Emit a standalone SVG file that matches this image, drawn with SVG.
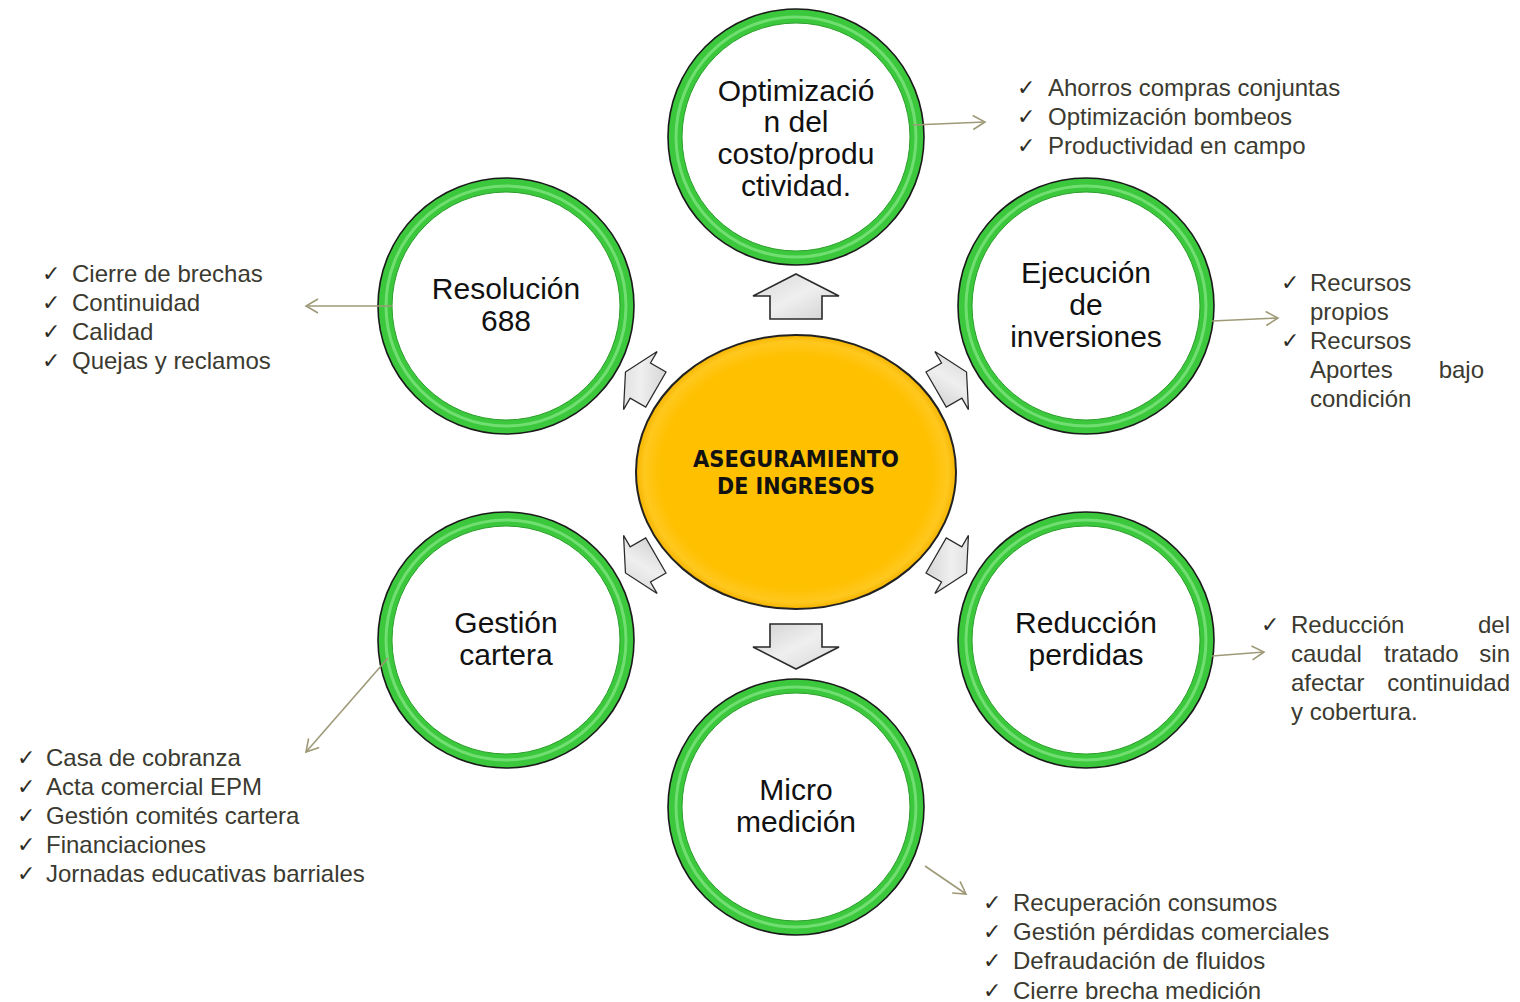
<svg xmlns="http://www.w3.org/2000/svg" width="1520" height="1002" viewBox="0 0 1520 1002">
<style>
.ring{fill:#fff;stroke:#3cc83c;stroke-width:14}
.ringo{fill:none;stroke:#1a1a1a;stroke-width:1.6}
.ringi{fill:none;stroke:#2a9e2a;stroke-width:1}
.ringh{fill:none;stroke:#9af09a;stroke-width:3;opacity:0.55}
.ct{font-family:"Liberation Sans",Arial,sans-serif;font-size:30px;fill:#111;text-anchor:middle}
.lt{font-family:"Liberation Sans",Arial,sans-serif;font-size:24px;fill:#3b3a30}
.ck{font-family:"DejaVu Sans",sans-serif;font-size:22px;fill:#2e2d25}
.con{stroke:#9e9a78;stroke-width:1.6;fill:none}
.blk{fill:url(#gArr);stroke:#2a2a2a;stroke-width:1.6;stroke-linejoin:miter}
.ctr{font-family:"DejaVu Sans",sans-serif;font-weight:bold;font-size:23px;fill:#111;text-anchor:middle}
</style>
<defs>
<marker id="ah" markerUnits="userSpaceOnUse" markerWidth="16" markerHeight="18" refX="14" refY="9" orient="auto">
<path d="M2,2 L14,9 L2,16" fill="none" stroke="#9e9a78" stroke-width="1.6"/>
</marker>
<linearGradient id="gArr" x1="0" y1="0" x2="1" y2="1">
<stop offset="0" stop-color="#d6d6d6"/>
<stop offset="0.5" stop-color="#efefef"/>
<stop offset="1" stop-color="#d0d0d0"/>
</linearGradient>
<radialGradient id="gCtr" cx="0.5" cy="0.5" r="0.5">
<stop offset="0.85" stop-color="#ffc000"/>
<stop offset="0.95" stop-color="#ffc81e"/>
<stop offset="1" stop-color="#f5b400"/>
</radialGradient>
<path id="barr" d="M0,-23 L43,-1 L26,-1 L26,22 L-26,22 L-26,-1 L-43,-1 Z"/>
</defs>

<g id="center">
<ellipse cx="796" cy="472" rx="160" ry="137" fill="url(#gCtr)" stroke="#222" stroke-width="2"/>
<text class="ctr" x="796" y="467" textLength="206" lengthAdjust="spacingAndGlyphs">ASEGURAMIENTO</text>
<text class="ctr" x="796" y="494" textLength="158" lengthAdjust="spacingAndGlyphs">DE INGRESOS</text>
</g>

<g id="block-arrows">
<use href="#barr" class="blk" transform="translate(796,297)"/>
<use href="#barr" class="blk" transform="translate(796,646) rotate(180)"/>
<use href="#barr" class="blk" transform="translate(641,381) rotate(-60) scale(0.78,0.78)"/>
<use href="#barr" class="blk" transform="translate(951,381) rotate(60) scale(0.78,0.78)"/>
<use href="#barr" class="blk" transform="translate(641,564) rotate(-120) scale(0.78,0.78)"/>
<use href="#barr" class="blk" transform="translate(951,564) rotate(120) scale(0.78,0.78)"/>
</g>

<g id="node-optimizacion">
<circle class="ring" cx="796" cy="137" r="121"/>
<circle class="ringh" cx="796" cy="137" r="120"/>
<circle class="ringi" cx="796" cy="137" r="114"/>
<circle class="ringo" cx="796" cy="137" r="128"/>
<text class="ct" x="796" y="101">Optimizació</text>
<text class="ct" x="796" y="132">n del</text>
<text class="ct" x="796" y="164">costo/produ</text>
<text class="ct" x="796" y="196">ctividad.</text>
</g>

<g id="node-resolucion">
<circle class="ring" cx="506" cy="306" r="121"/>
<circle class="ringh" cx="506" cy="306" r="120"/>
<circle class="ringi" cx="506" cy="306" r="114"/>
<circle class="ringo" cx="506" cy="306" r="128"/>
<text class="ct" x="506" y="299">Resolución</text>
<text class="ct" x="506" y="331">688</text>
</g>

<g id="node-ejecucion">
<circle class="ring" cx="1086" cy="306" r="121"/>
<circle class="ringh" cx="1086" cy="306" r="120"/>
<circle class="ringi" cx="1086" cy="306" r="114"/>
<circle class="ringo" cx="1086" cy="306" r="128"/>
<text class="ct" x="1086" y="283">Ejecución</text>
<text class="ct" x="1086" y="315">de</text>
<text class="ct" x="1086" y="347">inversiones</text>
</g>

<g id="node-gestion">
<circle class="ring" cx="506" cy="640" r="121"/>
<circle class="ringh" cx="506" cy="640" r="120"/>
<circle class="ringi" cx="506" cy="640" r="114"/>
<circle class="ringo" cx="506" cy="640" r="128"/>
<text class="ct" x="506" y="633">Gestión</text>
<text class="ct" x="506" y="665">cartera</text>
</g>

<g id="node-reduccion">
<circle class="ring" cx="1086" cy="640" r="121"/>
<circle class="ringh" cx="1086" cy="640" r="120"/>
<circle class="ringi" cx="1086" cy="640" r="114"/>
<circle class="ringo" cx="1086" cy="640" r="128"/>
<text class="ct" x="1086" y="633">Reducción</text>
<text class="ct" x="1086" y="665">perdidas</text>
</g>

<g id="node-micro">
<circle class="ring" cx="796" cy="807" r="121"/>
<circle class="ringh" cx="796" cy="807" r="120"/>
<circle class="ringi" cx="796" cy="807" r="114"/>
<circle class="ringo" cx="796" cy="807" r="128"/>
<text class="ct" x="796" y="800">Micro</text>
<text class="ct" x="796" y="832">medición</text>
</g>

<g id="connectors">
<line class="con" x1="913" y1="125" x2="985" y2="122" marker-end="url(#ah)"/>
<line class="con" x1="392" y1="306" x2="306" y2="306" marker-end="url(#ah)"/>
<line class="con" x1="1212" y1="321" x2="1278" y2="318" marker-end="url(#ah)"/>
<line class="con" x1="1212" y1="656" x2="1264" y2="652" marker-end="url(#ah)"/>
<line class="con" x1="388" y1="658" x2="306" y2="752" marker-end="url(#ah)"/>
<line class="con" x1="925" y1="866" x2="966" y2="894" marker-end="url(#ah)"/>
</g>

<g id="list-optimizacion">
<text class="ck" x="1017" y="95">✓</text><text class="lt" x="1048" y="96">Ahorros compras conjuntas</text>
<text class="ck" x="1017" y="124">✓</text><text class="lt" x="1048" y="125">Optimización bombeos</text>
<text class="ck" x="1017" y="153">✓</text><text class="lt" x="1048" y="154">Productividad en campo</text>
</g>

<g id="list-resolucion">
<text class="ck" x="42" y="281">✓</text><text class="lt" x="72" y="282">Cierre de brechas</text>
<text class="ck" x="42" y="310">✓</text><text class="lt" x="72" y="311">Continuidad</text>
<text class="ck" x="42" y="339">✓</text><text class="lt" x="72" y="340">Calidad</text>
<text class="ck" x="42" y="368">✓</text><text class="lt" x="72" y="369">Quejas y reclamos</text>
</g>

<g id="list-ejecucion">
<text class="ck" x="1281" y="290">✓</text><text class="lt" x="1310" y="291">Recursos</text>
<text class="lt" x="1310" y="320">propios</text>
<text class="ck" x="1281" y="348">✓</text><text class="lt" x="1310" y="349">Recursos</text>
<text class="lt" x="1310" y="378">Aportes</text><text class="lt" x="1484" y="378" text-anchor="end">bajo</text>
<text class="lt" x="1310" y="407">condición</text>
</g>

<g id="list-reduccion">
<text class="ck" x="1261" y="632">✓</text><text class="lt" x="1291" y="633">Reducción</text><text class="lt" x="1510" y="633" text-anchor="end">del</text>
<text class="lt" x="1291" y="662">caudal</text><text class="lt" x="1384" y="662">tratado</text><text class="lt" x="1510" y="662" text-anchor="end">sin</text>
<text class="lt" x="1291" y="691">afectar</text><text class="lt" x="1510" y="691" text-anchor="end">continuidad</text>
<text class="lt" x="1291" y="720">y cobertura.</text>
</g>

<g id="list-gestion">
<text class="ck" x="17" y="765">✓</text><text class="lt" x="46" y="766">Casa de cobranza</text>
<text class="ck" x="17" y="794">✓</text><text class="lt" x="46" y="795">Acta comercial EPM</text>
<text class="ck" x="17" y="823">✓</text><text class="lt" x="46" y="824">Gestión comités cartera</text>
<text class="ck" x="17" y="852">✓</text><text class="lt" x="46" y="853">Financiaciones</text>
<text class="ck" x="17" y="881">✓</text><text class="lt" x="46" y="882">Jornadas educativas barriales</text>
</g>

<g id="list-micro">
<text class="ck" x="983" y="910">✓</text><text class="lt" x="1013" y="911">Recuperación consumos</text>
<text class="ck" x="983" y="939">✓</text><text class="lt" x="1013" y="940">Gestión pérdidas comerciales</text>
<text class="ck" x="983" y="968">✓</text><text class="lt" x="1013" y="969">Defraudación de fluidos</text>
<text class="ck" x="983" y="998">✓</text><text class="lt" x="1013" y="999">Cierre brecha medición</text>
</g>
</svg>
